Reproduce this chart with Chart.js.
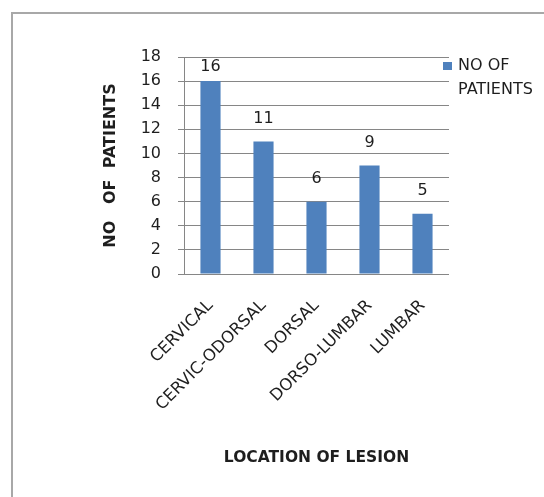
<!DOCTYPE html>
<html>
<head>
<meta charset="utf-8">
<script src="https://cdn.jsdelivr.net/npm/chart.js@4/dist/chart.umd.min.js"></script>
<style>
  html, body { margin: 0; padding: 0; background: #ffffff; }
  #wrap { position: relative; width: 544px; height: 497px; }
</style>
</head>
<body>
<div id="wrap"><canvas id="c" width="544" height="497"></canvas></div>
<script>
// Location of spinal lesion vs. number of patients
const categories = ['CERVICAL', 'CERVIC-ODORSAL', 'DORSAL', 'DORSO-LUMBAR', 'LUMBAR'];
const patients = [16, 11, 6, 9, 5];
const seriesName = ['NO OF', 'PATIENTS'];
const yTicks = { min: 0, max: 18, step: 2 };

const FONT = 'DejaVu Sans, Liberation Sans, Arial, sans-serif';
const BAR = '#4f81bd';
const GRID = '#868686';
const TEXT = '#1e1e1e';

// Outer frame of the figure
const framePlugin = {
  id: 'frame',
  beforeDraw(chart) {
    const ctx = chart.ctx;
    ctx.save();
    ctx.strokeStyle = '#a8a8a8';
    ctx.lineWidth = 2;
    ctx.strokeRect(12, 13, 1000, 1000);
    ctx.restore();
  }
};

// Value printed above each bar
const valueLabels = {
  id: 'valueLabels',
  afterDatasetsDraw(chart) {
    const ctx = chart.ctx;
    const meta = chart.getDatasetMeta(0);
    const area = chart.chartArea;
    ctx.save();
    ctx.font = '16px ' + FONT;
    ctx.fillStyle = TEXT;
    ctx.textAlign = 'center';
    ctx.textBaseline = 'middle';
    meta.data.forEach((bar, i) => {
      const y = Math.max(bar.y - 23, area.top + 10);
      ctx.fillText(String(chart.data.datasets[0].data[i]), bar.x, y);
    });
    ctx.restore();
  }
};

// Legend at the right of the plot, wrapped onto two lines
const sideLegend = {
  id: 'sideLegend',
  afterDraw(chart) {
    const ctx = chart.ctx;
    const area = chart.chartArea;
    const x = area.right - 6;
    const y = area.top + 5;
    ctx.save();
    ctx.fillStyle = BAR;
    ctx.fillRect(x, y, 9, 8);
    ctx.fillStyle = TEXT;
    ctx.font = '16px ' + FONT;
    ctx.textAlign = 'left';
    ctx.textBaseline = 'middle';
    seriesName.forEach((line, i) => {
      ctx.fillText(line, x + 15, y + 4 + i * 24);
    });
    ctx.restore();
  }
};

new Chart(document.getElementById('c'), {
  type: 'bar',
  data: {
    labels: categories,
    datasets: [{
      label: seriesName.join(' '),
      data: patients,
      backgroundColor: BAR,
      borderWidth: 0,
      barPercentage: 0.38,
      categoryPercentage: 1.0
    }]
  },
  options: {
    responsive: false,
    animation: false,
    devicePixelRatio: 1,
    layout: { padding: { left: 101, right: 95, top: 57, bottom: 30 } },
    plugins: {
      legend: { display: false },
      tooltip: { enabled: false }
    },
    scales: {
      x: {
        grid: { display: false, drawTicks: false },
        border: { display: false },
        ticks: {
          color: TEXT,
          font: { family: FONT, size: 16.5 },
          minRotation: 45,
          maxRotation: 45,
          padding: 22,
          autoSkip: false
        },
        title: {
          display: true,
          text: 'LOCATION OF LESION',
          color: TEXT,
          font: { family: FONT, size: 15.5, weight: 'bold' },
          padding: { top: 0, bottom: 0 }
        },
        afterFit(scale) { scale.height = 193; }
      },
      y: {
        min: yTicks.min,
        max: yTicks.max,
        grid: { color: GRID, lineWidth: 1, tickLength: 6, drawTicks: true },
        border: { display: true, color: GRID, width: 1 },
        ticks: {
          stepSize: yTicks.step,
          color: TEXT,
          font: { family: FONT, size: 16 },
          padding: 17
        },
        title: {
          display: true,
          text: 'NO   OF  PATIENTS',
          color: TEXT,
          font: { family: FONT, size: 16, weight: 'bold' },
          padding: { top: 0, bottom: 0 }
        },
        afterFit(scale) { scale.width = 83; }
      }
    }
  },
  plugins: [framePlugin, valueLabels, sideLegend]
});
</script>
</body>
</html>
